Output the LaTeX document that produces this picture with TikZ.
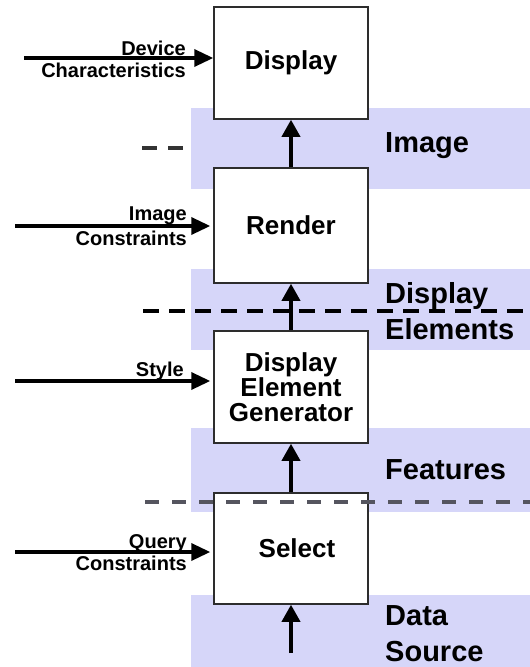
\documentclass[tikz,border=0pt]{standalone}
\usepackage{fontspec}
\setmainfont{Liberation Sans}
\usetikzlibrary{arrows.meta}
\definecolor{band}{RGB}{214,214,249}
\definecolor{boxline}{RGB}{45,45,45}
\definecolor{dashgray}{RGB}{85,85,95}
\tikzset{
  stagebox/.style={draw=boxline, line width=1.5pt, fill=white, minimum width=154pt,
    inner sep=0pt, align=center, font=\bfseries\fontsize{26}{25}\selectfont},
  flow/.style={line width=3.5pt, -{Triangle[length=17pt,width=18pt]}},
  inflow/.style={line width=3.5pt, -{Triangle[length=19pt,width=17pt]}},
  sidelabel/.style={align=right, inner sep=0pt, font=\bfseries\fontsize{20}{22}\selectfont},
  levellabel/.style={align=left, anchor=west, inner sep=0pt, font=\bfseries\fontsize{29}{36}\selectfont},
  levelband/.style={fill=band, draw=none},
  levelsep/.style={line width=4pt, dash pattern=on 16pt off 10pt},
  graysep/.style={line width=3.5pt, draw=dashgray, dash pattern=on 14pt off 13pt}
}
\begin{document}
\begin{tikzpicture}[x=1pt, y=-1pt]
\useasboundingbox (0,0) rectangle (530,667);

% separator that disappears behind the image band
\coordinate (ts0) at (142,148);
\coordinate (ts1) at (200,148);
\draw[graysep, draw=black!80, dash pattern=on 15pt off 11pt] (ts0) -- (ts1);

% data levels
\fill[levelband] (191,108) rectangle (530,189);
\fill[levelband] (191,269) rectangle (530,350);
\fill[levelband] (191,428) rectangle (530,512);
\fill[levelband] (191,595) rectangle (530,667);

% processing stages
\node[stagebox, minimum height=112pt] (disp) at (291,63) {Display};
\node[stagebox, minimum height=115pt] (rend) at (291,225.5) {Render};
\node[stagebox, minimum height=112pt] (deg) at (291,387) {Display\\Element\\Generator};
\node[stagebox, minimum height=111pt,
      label={[xshift=6pt, font=\bfseries\fontsize{26}{25}\selectfont]center:Select}] (sel) at (291,548.5) {};

% flow between stages
\coordinate (src) at (291,653);
\draw[flow] (src) -- (sel);
\draw[flow] (sel) -- (deg);
\draw[flow] (deg) -- (rend);
\draw[flow] (rend) -- (disp);

% inputs from the left
\coordinate (dc) at (24,58);
\coordinate (ic) at (15,226);
\coordinate (st) at (15,381);
\coordinate (qc) at (15,552);
\draw[inflow] (dc) -- (disp.west |- dc);
\draw[inflow, shorten >=3pt] (ic) -- (rend.west |- ic);
\draw[inflow, shorten >=3pt] (st) -- (deg.west |- st);
\draw[inflow, shorten >=3pt] (qc) -- (sel.west |- qc);

\node[sidelabel, anchor=east] (dcl) at (186,59) {Device\\Characteristics};
\node[sidelabel, anchor=east, font=\bfseries\fontsize{20}{25}\selectfont] (icl) at (187,226.5) {Image\\Constraints};
\node[sidelabel, anchor=east] (stl) at (184,371) {Style};
\node[sidelabel, anchor=east] (qcl) at (187,553) {Query\\Constraints};

% level separators
\coordinate (ls0) at (145,502);
\coordinate (ls1) at (530,502);
\draw[graysep] (ls0) -- (ls1);
\coordinate (us0) at (143,311);
\coordinate (us1) at (530,311);
\draw[levelsep] (us0) -- (us1);

% level names
\node[levellabel] (limg) at (385,146) {Image};
\node[levellabel] (lde) at (385,311) {Display\\Elements};
\node[levellabel] (lfeat) at (385,470) {Features};
\node[levellabel] (lds) at (385,634) {Data\\Source};
\end{tikzpicture}
\end{document}
